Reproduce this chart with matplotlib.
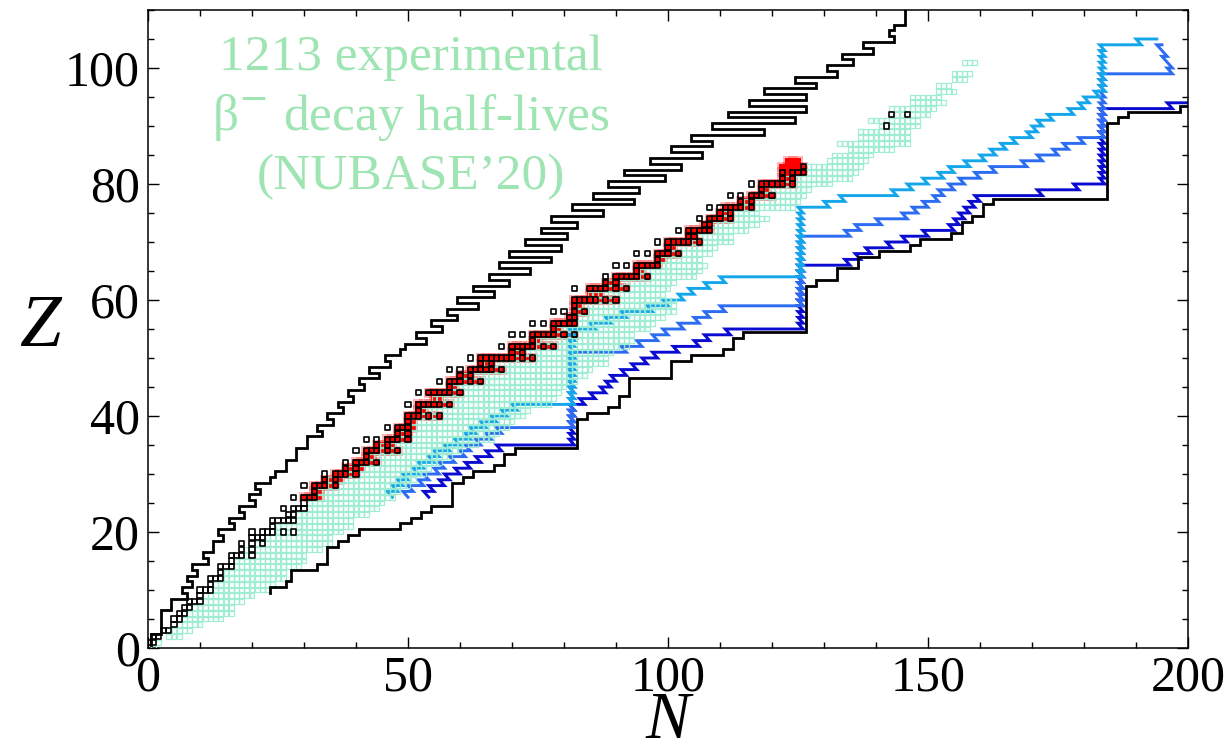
import numpy as np
import matplotlib.pyplot as plt
from matplotlib.ticker import MultipleLocator

plt.rcParams['font.family'] = ['Liberation Serif', 'DejaVu Serif']

# proton drip line: lightest bound N for Z = 1..110
p_drip_z = list(range(1, 111))
p_drip_n = [1, 1, 3, 3, 3, 3, 5, 5, 8, 7, 9, 8, 10, 9, 12, 11, 13, 13, 15, 14,
            17, 16, 19, 18, 21, 20, 22, 21, 24, 25, 27, 27, 29, 29, 31, 31, 34, 33, 36, 35,
            38, 37, 40, 39, 42, 41, 45, 43, 47, 46, 49, 50, 54, 52, 57, 55, 60, 58, 64, 60,
            67, 63, 70, 66, 74, 68, 78, 70, 80, 73, 81, 76, 83, 78, 88, 82, 94, 86, 95, 89,
            100, 92, 103, 97, 107, 101, 109, 105, 119, 109, 125, 112, 127, 116, 127, 119, 129, 125, 133, 131,
            136, 134, 140, 138, 144, 143, 144, 146, 146, 146]

# neutron drip line: heaviest bound N for Z = 10..110
n_drip_z = list(range(10, 111))
n_drip_n = [23, 26, 27, 27, 32, 34, 34, 34, 36, 38, 40, 48, 50, 52, 54, 58, 58, 58, 58, 60,
            62, 66, 68, 68, 70, 82, 82, 82, 82, 82, 84, 88, 90, 90, 92, 92, 92, 100, 100, 100,
            104, 110, 112, 112, 114, 126, 126, 126, 126, 126, 126, 126, 126, 128, 132, 132, 136, 136, 140, 146,
            148, 154, 156, 156, 158, 160, 160, 162, 184, 184, 184, 184, 184, 184, 184, 184, 184, 184, 184, 184,
            184, 186, 188, 198, 204, 204, 204, 204, 204, 204, 204, 204, 204, 204, 204, 204, 204, 204, 204, 204, 204]

# stable nuclei (black squares): N values for Z = 1..83, plus Th and U
stable_n = [[0, 1], [1, 2], [3, 4], [5], [5, 6], [6, 7], [7, 8], [8, 9, 10], [10], [10, 11, 12],
            [12], [12, 13, 14], [14], [14, 15, 16], [16], [16, 17, 18, 20], [18, 20], [18, 20, 22], [20, 21, 22],
            [20, 22, 23, 24, 26, 28], [24], [24, 25, 26, 27, 28], [27, 28], [26, 28, 29, 30], [30],
            [28, 30, 31, 32], [32], [30, 32, 33, 34, 36], [34, 36], [34, 36, 37, 38, 40], [38, 40],
            [38, 40, 41, 42, 44], [42], [40, 42, 43, 44, 46, 48], [44, 46], [42, 44, 46, 47, 48, 50],
            [48, 50], [46, 48, 49, 50], [50], [50, 51, 52, 54, 56], [52], [50, 52, 53, 54, 55, 56, 58], [],
            [52, 54, 55, 56, 57, 58, 60], [58], [56, 58, 59, 60, 62, 64], [60, 62],
            [58, 60, 62, 63, 64, 65, 66, 68], [64, 66], [62, 64, 65, 66, 67, 68, 69, 70, 72, 74], [70, 72],
            [68, 70, 71, 72, 73, 74, 76, 78], [74], [70, 72, 74, 75, 76, 77, 78, 80, 82], [78],
            [74, 76, 78, 79, 80, 81, 82], [81, 82], [78, 80, 82, 84], [82], [82, 83, 84, 85, 86, 88, 90], [],
            [82, 85, 86, 87, 88, 90, 92], [88, 90], [88, 90, 91, 92, 93, 94, 96], [94],
            [90, 92, 94, 95, 96, 97, 98], [98], [94, 96, 98, 99, 100, 102], [100],
            [98, 100, 101, 102, 103, 104, 106], [104, 105], [102, 104, 105, 106, 107, 108], [107, 108],
            [106, 108, 109, 110, 112], [110, 112], [108, 110, 111, 112, 113, 114, 116], [114, 116],
            [112, 114, 116, 117, 118, 120], [118], [116, 118, 119, 120, 121, 122, 124], [122, 124],
            [122, 124, 125, 126], [126]]
extra_stable_z = [90, 92, 92]
extra_stable_n = [142, 143, 146]

# red band (Z = 26..84)
red_z = list(range(26, 85))
red_lo = [30, 32, 32, 34, 36, 38, 40, 42, 42, 44, 46, 48, 48, 50, 50, 52, 52, 55, 54, 58,
          58, 60, 62, 64, 64, 70, 70, 74, 74, 78, 78, 81, 82, 82, 82, 85, 85, 88, 90, 94,
          94, 98, 98, 100, 100, 104, 104, 107, 108, 110, 111, 114, 116, 118, 118, 122, 122, 122, 123]
red_hi = [33, 33, 36, 37, 40, 41, 44, 43, 48, 47, 50, 50, 51, 51, 56, 53, 58, 56, 60, 59,
          64, 62, 68, 66, 74, 72, 78, 75, 82, 79, 82, 82, 84, 83, 90, 87, 92, 90, 96, 95,
          98, 99, 102, 101, 106, 105, 108, 108, 112, 112, 116, 116, 120, 119, 124, 124, 126, 126, 125]

# experimental beta- emitters (NUBASE'20): N range per Z = 0..101
exp_z = list(range(0, 102))
exp_lo = [1, 2, 4, 5, 6, 7, 8, 9, 11, 11, 13, 13, 15, 15, 17, 17, 19, 19, 21, 21,
          25, 25, 29, 29, 31, 31, 33, 33, 35, 35, 39, 39, 43, 43, 45, 45, 49, 49, 51, 51,
          53, 53, 57, 55, 59, 59, 61, 61, 67, 65, 71, 71, 75, 75, 79, 79, 83, 83, 83, 83,
          87, 85, 89, 89, 95, 95, 99, 99, 101, 101, 105, 106, 109, 109, 111, 111, 115, 115, 119, 119,
          123, 123, 127, 127, 131, 132, 135, 133, 137, 137, 141, 139, 143, 143, 147, 147, 152, 152, 155, 155,
          999, 157]
exp_hi = [1, 2, 6, 8, 10, 14, 16, 16, 18, 20, 23, 24, 26, 26, 29, 30, 30, 33, 35, 35,
          37, 39, 39, 42, 44, 45, 47, 48, 50, 51, 53, 54, 56, 58, 60, 63, 66, 67, 69, 70,
          72, 73, 77, 78, 79, 80, 82, 84, 85, 88, 88, 89, 92, 93, 93, 96, 97, 99, 101, 101,
          101, 99, 100, 101, 105, 106, 107, 106, 108, 109, 112, 112, 115, 117, 119, 117, 124, 125, 126, 127,
          131, 135, 136, 137, 138, 139, 143, 146, 146, 146, 148, 148, 150, 151, 153, 152, 155, 154, 157, 158,
          0, 159]

# r-process paths: waiting-point N for each Z, starting at Z = 26
path_z0 = 26
path_light = [47, 48, 49, 50, 52, 53, 55, 56, 58, 60, 62, 63, 65, 67, 69, 71] + [82] * 13 + \
             [86, 89, 92, 97, 100, 103, 105, 108, 111] + [126] * 12 + [131, 134, 144] + \
             [147, 150, 153, 155, 158, 161, 163, 165, 167, 170, 171, 172, 174, 178, 180, 181, 183] + \
             [184] * 8 + [191, 194]
path_mid = [50, 51, 53, 54, 56, 57, 59, 61, 62, 64, 66, 68] + [82] * 13 + \
           [92, 95, 98, 100, 103, 106, 108, 111] + [126] * 12 + \
           [135, 137, 141, 146, 148, 150, 152, 153, 155, 157, 160, 163, 169, 172, 175, 177, 180] + \
           [184] * 11 + [197, 197, 196, 196, 195, 195]
path_dark = [54, 55, 57, 58, 60, 62, 64, 66, 68] + [82] * 7 + \
            [84, 86, 88, 89, 90, 92, 94, 96, 98, 102, 106, 108, 112] + [126] * 11 + \
            [135, 137, 139, 143, 146, 150, 155, 156, 157, 158, 159, 160, 172, 179] + \
            [184] * 13 + [197, 201]


def staircase(zs, ns, side):
    xs, ys = [], []
    for z, n in zip(zs, ns):
        xs += [n + side, n + side]
        ys += [z - 0.5, z + 0.5]
    return xs, ys


def rpath(z0, nw):
    xs, ys = [nw[0]], [z0]
    for i in range(1, len(nw)):
        xs += [nw[i - 1] - 1, nw[i]]
        ys += [z0 + i, z0 + i]
    return xs, ys


fig = plt.figure(figsize=(12.31, 7.51), dpi=100)
ax = fig.add_axes([148 / 1231, 103 / 751, 1040 / 1231, 638 / 751])

# red band (soft halo + solid cells)
rz, rn = [], []
for z, lo, hi in zip(red_z, red_lo, red_hi):
    for n in range(lo, hi + 1):
        rz.append(z)
        rn.append(n)
ax.scatter(rn, rz, marker='s', s=48, color='#ff3030', alpha=0.35, linewidths=0, zorder=1)
ax.scatter(rn, rz, marker='s', s=24, color='#ff0000', linewidths=0, zorder=1)

# r-process paths
for nw, col in [(path_dark, '#0a0ad0'), (path_mid, '#2c6cf2'), (path_light, '#14a6ea')]:
    x, y = rpath(path_z0, nw)
    ax.plot(x, y, color=col, lw=2.1, zorder=2, solid_joinstyle='miter')

# experimental beta- emitters
stable_set = set()
for z, ns in enumerate(stable_n, start=1):
    for n in ns:
        stable_set.add((n, z))
for z, n in zip(extra_stable_z, extra_stable_n):
    stable_set.add((n, z))
ez, en = [], []
for z, lo, hi in zip(exp_z, exp_lo, exp_hi):
    for n in range(lo, hi + 1):
        if (n, z) not in stable_set:
            ez.append(z)
            en.append(n)
ax.scatter(en, ez, marker='s', s=12, facecolors='none', edgecolors='#98ecd2',
           linewidths=0.9, alpha=0.9, zorder=3)

# stable nuclei
sn = [p[0] for p in stable_set]
sz = [p[1] for p in stable_set]
ax.scatter(sn, sz, marker='s', s=13, facecolors='none', edgecolors='black',
           linewidths=1.2, zorder=4)

# drip lines
x, y = staircase(p_drip_z, p_drip_n, -0.5)
ax.plot(x, y, color='black', lw=2.0, zorder=5, solid_joinstyle='miter')
x, y = staircase(n_drip_z, n_drip_n, 0.5)
ax.plot(x, y, color='black', lw=2.0, zorder=5, solid_joinstyle='miter')

ax.text(50.6, 99.7, '1213 experimental', color='#9fe5b3', fontsize=37, ha='center', va='baseline')
ax.text(50.6, 89.3, 'β$^{-}$ decay half-lives', color='#9fe5b3', fontsize=37, ha='center', va='baseline')
ax.text(50.6, 79.1, '(NUBASE\u201920)', color='#9fe5b3', fontsize=37, ha='center', va='baseline')

ax.set_xlim(0, 200)
ax.set_ylim(0, 110)
ax.set_xticks([0, 50, 100, 150, 200])
ax.set_yticks([0, 20, 40, 60, 80, 100])
ax.xaxis.set_minor_locator(MultipleLocator(10))
ax.yaxis.set_minor_locator(MultipleLocator(5))
ax.tick_params(which='both', direction='in', top=True, right=True, labelsize=36, width=1.0)
ax.tick_params(which='major', length=8)
ax.tick_params(which='minor', length=4)
ax.tick_params(axis='x', pad=5)
ax.tick_params(axis='y', pad=6)
for s in ax.spines.values():
    s.set_linewidth(1.1)

fig.text(668 / 1231, 1 - 722 / 751, 'N', fontsize=48, style='italic', ha='center', va='center')
fig.text(40 / 1231, 1 - 328 / 751, 'Z', fontsize=54, style='italic', ha='center', va='center')

fig.savefig('out.png', dpi=100)
